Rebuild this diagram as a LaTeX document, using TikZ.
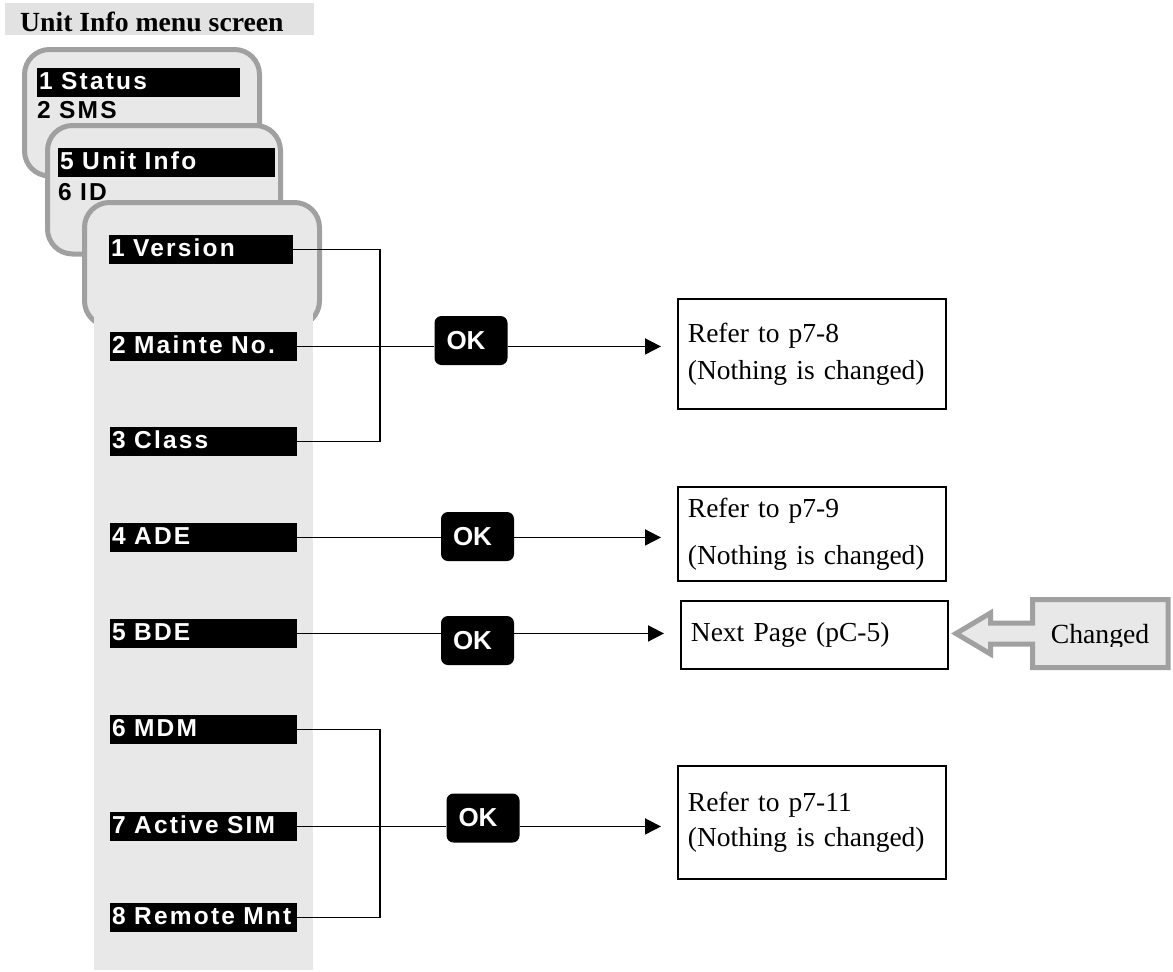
\documentclass[tikz,border=0pt]{standalone}
\usepackage{fontspec}
\setmainfont{Liberation Serif}
\newfontfamily\menufont{Liberation Sans}[LetterSpace=9]
\newfontfamily\okfont{Liberation Sans}
\newcommand\msp{\hspace{0.34em}}
\usetikzlibrary{arrows.meta,calc}
\definecolor{scrfill}{HTML}{E8E8E8}
\definecolor{scrline}{HTML}{A0A0A0}
\definecolor{titlefill}{HTML}{E2E2E2}
\begin{document}
\begin{tikzpicture}[x=1pt,y=-1pt,
  screen/.style={draw=scrline,fill=scrfill,line width=5pt,rounded corners=25pt},
  menufnt/.style={font=\menufont\bfseries\fontsize{24.5}{28}\selectfont},
  menubar/.style={menufnt,anchor=north west,fill=black,text=white,minimum height=28.5pt,
    inner ysep=0pt,inner xsep=2pt,text height=17.5pt,text depth=3pt,text width=#1},
  menutext/.style={menufnt,anchor=base west,inner sep=0pt},
  okbox/.style={fill=black,rounded corners=7pt,text=white,
    font=\okfont\bfseries\fontsize{26}{30}\selectfont,
    minimum height=49pt,inner xsep=12pt,inner ysep=0pt,text width=49pt,
    text height=18.5pt,text depth=1pt},
  resbox/.style={draw,line width=1.8pt,anchor=north west,minimum width=268pt,
    inner xsep=10pt,inner ysep=0pt,text width=248pt,
    font=\fontsize{27.5}{37}\selectfont},
  conn/.style={line width=1.8pt},
  arr/.style={line width=1.8pt,-{Triangle[length=16pt,width=16pt]},shorten >=16pt},
  chgshape/.style={draw=scrline,fill=scrfill,line width=5pt,line join=miter}
]
\useasboundingbox (0,0) rectangle (1173,972);

% title
\fill[titlefill] (5,3) rectangle (314,35);
\node[anchor=base west,inner sep=0pt,font=\bfseries\fontsize{27.7}{33}\selectfont] (title) at (20,31.5) {Unit Info menu screen};

% screens
\draw[screen] (24.5,49.5) rectangle (259.5,176);
\node[menubar=199pt] (s1) at (37,68) {1\msp Status};
\node[menutext] (sms) at (37,118) {2\msp SMS};

\draw[screen] (47.5,125.5) rectangle (280.5,254);
\node[menubar=213pt] (s2) at (58,148) {5\msp Unit\msp Info};
\node[menutext] (sid) at (58,200) {6\msp ID};

\draw[screen] (84.5,202.5) rectangle (319.5,326);
\fill[scrfill] (94,300) rectangle (313,970);

% menu items
\node[menubar=180pt] (b1) at (109,235) {1\msp Version};
\node[menubar=183pt] (b2) at (110,332) {2\msp Mainte\msp No.};
\node[menubar=183pt] (b3) at (110,427) {3\msp Class};
\node[menubar=183pt] (b4) at (110,523) {4\msp ADE};
\node[menubar=183pt] (b5) at (110,619) {5\msp BDE};
\node[menubar=183pt] (b6) at (110,715) {6\msp MDM};
\node[menubar=183pt] (b7) at (110,812) {7\msp Active\msp SIM};
\node[menubar=183pt] (b8) at (110,903) {8\msp Remote\msp Mnt};

% OK buttons
\node[okbox] (ok1) at (471,340.5) {OK};
\node[okbox] (ok2) at (477.5,536.5) {OK};
\node[okbox] (ok3) at (477.5,640.5) {OK};
\node[okbox] (ok4) at (483,818) {OK};

% result boxes
\node[resbox,minimum height=110pt] (r1) at (677,298) {Refer to p7-8\\(Nothing is changed)};
\node[resbox,minimum height=94pt] (r2) at (677,486) {Refer to p7-9\\[10pt](Nothing is changed)};
\node[resbox,minimum height=68pt,minimum width=267pt,text width=247pt,inner xsep=10pt] (r3) at (680,600) {Next Page (pC-5)};
\node[resbox,minimum height=113pt] (r4) at (677,765) {Refer to p7-11\\[-2pt](Nothing is changed)};

% group 1
\coordinate (j1) at (380,345.5);
\draw[conn] (b1.east) -| (j1);
\draw[conn] (b3.east) -| (j1);
\draw[conn] (b2.east) -- (b2.east -| ok1.west);
\draw[arr] (b2.east -| ok1.east) -- (b2.east -| r1.west);

% ADE, BDE
\draw[conn] (b4.east) -- (b4.east -| ok2.west);
\draw[arr] (b4.east -| ok2.east) -- (b4.east -| r2.west);
\draw[conn] (b5.east) -- (b5.east -| ok3.west);
\draw[arr] (b5.east -| ok3.east) -- (b5.east -| r3.west);

% group 3
\coordinate (j3) at (380,826.5);
\draw[conn] (b6.east) -| (j3);
\draw[conn] (b8.east) -| (j3);
\draw[conn] (b7.east) -- (b7.east -| ok4.west);
\draw[arr] (b7.east -| ok4.east) -- (b7.east -| r4.west);

% changed callout arrow
\draw[chgshape] (1168,599.5) -- (1032.5,599.5) -- (1032.5,623) -- (990.5,623) -- (990.5,613)
  -- (956,633.5) -- (990.5,654) -- (990.5,644) -- (1032.5,644) -- (1032.5,667.5)
  -- (1168,667.5) -- cycle;
\begin{scope}
  \clip (1036,602) rectangle (1165,646.5);
  \node[anchor=base,inner sep=0pt,font=\fontsize{27.7}{33}\selectfont] (chg) at (1100,643.5) {Changed};
\end{scope}
\end{tikzpicture}
\end{document}
